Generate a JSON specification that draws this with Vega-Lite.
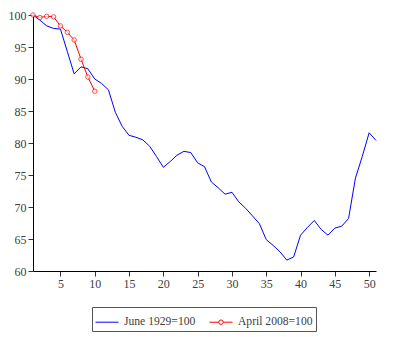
{
  "$schema": "https://vega.github.io/schema/vega-lite/v6.json",
  "width": 343,
  "height": 256,
  "autosize": {"type": "none"},
  "padding": {"left": 33, "top": 15, "right": 24, "bottom": 66},
  "background": "white",
  "config": {
    "view": {"stroke": null},
    "axis": {
      "grid": false,
      "domainColor": "#000000",
      "tickColor": "#333333",
      "tickSize": 5,
      "labelFont": "Liberation Serif",
      "labelFontSize": 12,
      "labelColor": "#404040",
      "labelPadding": 2,
      "labelOverlap": false,
      "title": null
    }
  },
  "data": {
    "values": [
      {"month": 1, "series": "June 1929=100", "value": 100},
      {"month": 2, "series": "June 1929=100", "value": 99.2},
      {"month": 3, "series": "June 1929=100", "value": 98.3},
      {"month": 4, "series": "June 1929=100", "value": 97.9},
      {"month": 5, "series": "June 1929=100", "value": 97.8},
      {"month": 6, "series": "June 1929=100", "value": 94.3},
      {"month": 7, "series": "June 1929=100", "value": 90.8},
      {"month": 8, "series": "June 1929=100", "value": 91.9},
      {"month": 9, "series": "June 1929=100", "value": 91.6},
      {"month": 10, "series": "June 1929=100", "value": 90.0},
      {"month": 11, "series": "June 1929=100", "value": 89.3},
      {"month": 12, "series": "June 1929=100", "value": 88.3},
      {"month": 13, "series": "June 1929=100", "value": 84.8},
      {"month": 14, "series": "June 1929=100", "value": 82.6},
      {"month": 15, "series": "June 1929=100", "value": 81.2},
      {"month": 16, "series": "June 1929=100", "value": 80.9},
      {"month": 17, "series": "June 1929=100", "value": 80.5},
      {"month": 18, "series": "June 1929=100", "value": 79.5},
      {"month": 19, "series": "June 1929=100", "value": 77.9},
      {"month": 20, "series": "June 1929=100", "value": 76.2},
      {"month": 21, "series": "June 1929=100", "value": 77.1},
      {"month": 22, "series": "June 1929=100", "value": 78.1},
      {"month": 23, "series": "June 1929=100", "value": 78.7},
      {"month": 24, "series": "June 1929=100", "value": 78.5},
      {"month": 25, "series": "June 1929=100", "value": 76.9},
      {"month": 26, "series": "June 1929=100", "value": 76.3},
      {"month": 27, "series": "June 1929=100", "value": 73.9},
      {"month": 28, "series": "June 1929=100", "value": 73.0},
      {"month": 29, "series": "June 1929=100", "value": 72.0},
      {"month": 30, "series": "June 1929=100", "value": 72.3},
      {"month": 31, "series": "June 1929=100", "value": 70.8},
      {"month": 32, "series": "June 1929=100", "value": 69.8},
      {"month": 33, "series": "June 1929=100", "value": 68.6},
      {"month": 34, "series": "June 1929=100", "value": 67.4},
      {"month": 35, "series": "June 1929=100", "value": 64.9},
      {"month": 36, "series": "June 1929=100", "value": 64.0},
      {"month": 37, "series": "June 1929=100", "value": 63.0},
      {"month": 38, "series": "June 1929=100", "value": 61.7},
      {"month": 39, "series": "June 1929=100", "value": 62.2},
      {"month": 40, "series": "June 1929=100", "value": 65.6},
      {"month": 41, "series": "June 1929=100", "value": 66.8},
      {"month": 42, "series": "June 1929=100", "value": 67.9},
      {"month": 43, "series": "June 1929=100", "value": 66.5},
      {"month": 44, "series": "June 1929=100", "value": 65.6},
      {"month": 45, "series": "June 1929=100", "value": 66.7},
      {"month": 46, "series": "June 1929=100", "value": 67.0},
      {"month": 47, "series": "June 1929=100", "value": 68.2},
      {"month": 48, "series": "June 1929=100", "value": 74.5},
      {"month": 49, "series": "June 1929=100", "value": 77.9},
      {"month": 50, "series": "June 1929=100", "value": 81.6},
      {"month": 51, "series": "June 1929=100", "value": 80.4},
      {"month": 1, "series": "April 2008=100", "value": 100},
      {"month": 2, "series": "April 2008=100", "value": 99.6},
      {"month": 3, "series": "April 2008=100", "value": 99.8},
      {"month": 4, "series": "April 2008=100", "value": 99.7},
      {"month": 5, "series": "April 2008=100", "value": 98.3},
      {"month": 6, "series": "April 2008=100", "value": 97.3},
      {"month": 7, "series": "April 2008=100", "value": 96.1},
      {"month": 8, "series": "April 2008=100", "value": 93.1},
      {"month": 9, "series": "April 2008=100", "value": 90.3},
      {"month": 10, "series": "April 2008=100", "value": 88.1}
    ]
  },
  "layer": [
    {
      "mark": {"type": "line", "strokeWidth": 1, "clip": false},
      "encoding": {
        "x": {
          "field": "month", "type": "quantitative",
          "scale": {"domain": [1, 51], "nice": false, "zero": false},
          "axis": {"values": [5, 10, 15, 20, 25, 30, 35, 40, 45, 50], "tickCount": 50, "labelFont": "Liberation Serif", "labelOverlap": false}
        },
        "y": {
          "field": "value", "type": "quantitative",
          "scale": {"domain": [60, 100], "nice": false, "zero": false},
          "axis": {"values": [60, 65, 70, 75, 80, 85, 90, 95, 100], "tickCount": 50, "labelFont": "Liberation Serif", "labelOverlap": false}
        },
        "color": {
          "field": "series", "type": "nominal",
          "scale": {"domain": ["June 1929=100", "April 2008=100"], "range": ["#0000FF", "#FF0000"]},
          "legend": {
            "orient": "none",
            "legendX": 59,
            "legendY": 292,
            "direction": "horizontal",
            "title": null,
            "symbolType": "stroke",
            "symbolSize": 529,
            "symbolStrokeWidth": 1,
            "labelFont": "Liberation Serif",
            "labelFontSize": 11.6,
            "labelColor": "#404040",
            "labelOffset": 5,
            "columnPadding": 11,
            "strokeColor": "#555555",
            "fillColor": "white",
            "padding": 3,
            "encode": {
              "symbols": {
                "update": {
                  "shape": {"signal": "datum.value === 'April 2008=100' ? 'M-1,0H-0.2M0.2,0H1M0.2,0L0.14,0.14L0,0.2L-0.14,0.14L-0.2,0L-0.14,-0.14L0,-0.2L0.14,-0.14Z' : 'stroke'"}
                }
              }
            }
          }
        },
        "order": {"field": "month"}
      }
    },
    {
      "transform": [{"filter": "datum.series === 'April 2008=100'"}],
      "mark": {"type": "point", "shape": "circle", "size": 20, "filled": true, "fill": "white", "stroke": "#FF0000", "strokeWidth": 1, "clip": false},
      "encoding": {
        "x": {"field": "month", "type": "quantitative"},
        "y": {"field": "value", "type": "quantitative"}
      }
    }
  ]
}
